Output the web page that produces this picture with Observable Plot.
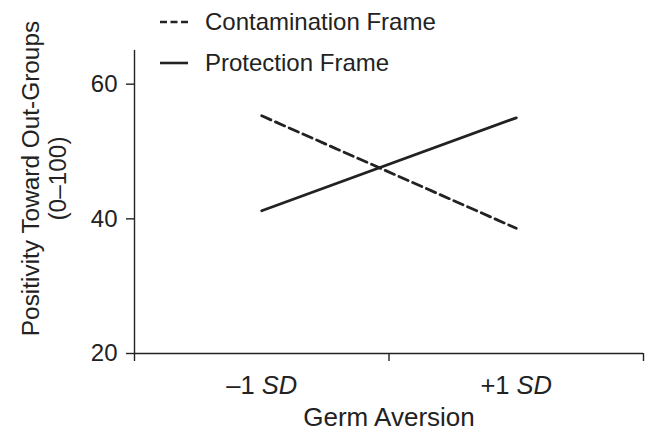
<!DOCTYPE html>
<html>
<head>
<meta charset="utf-8">
<script src="https://cdn.jsdelivr.net/npm/d3@7"></script>
<script src="https://cdn.jsdelivr.net/npm/@observablehq/plot@0.6"></script>
<style>
  html, body { margin: 0; padding: 0; background: #fff; }
  #wrap { position: relative; width: 647px; height: 431px; font-family: "Liberation Sans", Arial, sans-serif; color: #222; }
  .leg { position: absolute; left: 160px; display: flex; align-items: center; font-size: 24px; white-space: nowrap; }
  .leg svg { margin-right: 17px; }
</style>
</head>
<body>
<div id="wrap"></div>
<script>
// ---- data ----
const categories = ["–1 SD", "+1 SD"];
const seriesNames = ["Contamination Frame", "Protection Frame"];
const contamination = [55.3, 38.6];
const protection = [41.2, 55.0];
const yTicks = [20, 40, 60];
const yDomain = [20, 65];
const xTitle = "Germ Aversion";
const yTitle = "Positivity Toward Out-Groups\n(0–100)";

const rows = [];
categories.forEach((c, i) => {
  rows.push({series: seriesNames[0], pos: i + 0.5, value: contamination[i]});
  rows.push({series: seriesNames[1], pos: i + 0.5, value: protection[i]});
});
const font = "Liberation Sans, Arial, sans-serif";
const ink = "#222";

const chart = Plot.plot({
  width: 647,
  height: 431,
  marginTop: 50,
  marginRight: 4,
  marginBottom: 78,
  marginLeft: 134,
  style: {fontFamily: font, fontSize: "25px", color: ink, background: "#fff"},
  x: {type: "linear", domain: [0, categories.length]},
  y: {domain: yDomain},
  marks: [
    Plot.ruleY([yDomain[0]], {stroke: ink, strokeWidth: 1.4}),
    Plot.ruleX([0], {stroke: ink, strokeWidth: 1.4}),
    Plot.axisY(yTicks, {tickSize: 8, tickPadding: 9, label: null, fontSize: 24, stroke: ink, strokeWidth: 1.4}),
    Plot.axisX(d3.range(categories.length + 1), {tickSize: 8, tickFormat: () => "", label: null, stroke: ink, strokeWidth: 1.4}),
    Plot.axisX(categories.map((c, i) => i + 0.5), {tickSize: 0, tickPadding: 22, tickFormat: v => categories[Math.floor(v)], label: null, fontSize: 25.5}),
    Plot.line(rows.filter(d => d.series === seriesNames[0]), {x: "pos", y: "value", stroke: ink, strokeWidth: 2.8, strokeDasharray: "10,5"}),
    Plot.line(rows.filter(d => d.series === seriesNames[1]), {x: "pos", y: "value", stroke: ink, strokeWidth: 2.8}),
    Plot.text([xTitle], {frameAnchor: "bottom", lineAnchor: "bottom", dy: 72, fontSize: 26, fill: ink}),
    Plot.text([yTitle], {frameAnchor: "left", rotate: -90, textAnchor: "middle", lineAnchor: "middle", lineHeight: 1.14, dx: -91, dy: -23.5, fontSize: 24.4, fill: ink})
  ]
});

// italicise "SD" in tick labels
chart.querySelectorAll("text").forEach(t => {
  const s = t.textContent;
  if (/ SD$/.test(s) && t.children.length === 0) {
    t.textContent = s.slice(0, -2);
    const ts = document.createElementNS("http://www.w3.org/2000/svg", "tspan");
    ts.setAttribute("font-style", "italic");
    ts.textContent = "SD";
    t.appendChild(ts);
  }
});

const wrap = document.getElementById("wrap");
wrap.appendChild(chart);

// legend
const legendItems = [
  {name: seriesNames[0], dash: "7,3.5", top: 22},
  {name: seriesNames[1], dash: null, top: 63}
];
legendItems.forEach(it => {
  const div = document.createElement("div");
  div.className = "leg";
  div.style.top = (it.top - 15) + "px";
  div.style.height = "30px";
  div.innerHTML = `<svg width="28" height="6"><line x1="0" x2="28" y1="3" y2="3" stroke="${ink}" stroke-width="2.6"${it.dash ? ` stroke-dasharray="${it.dash}"` : ""}/></svg><span>${it.name}</span>`;
  wrap.appendChild(div);
});
</script>
</body>
</html>
